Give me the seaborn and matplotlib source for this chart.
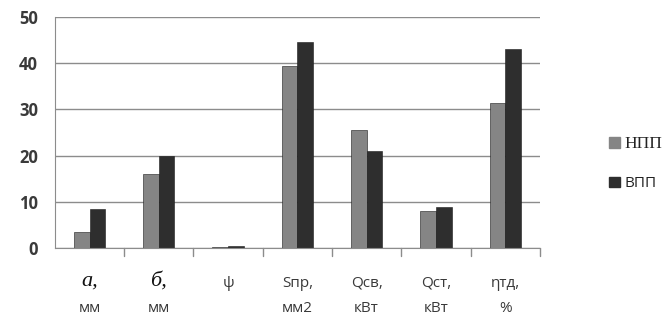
import matplotlib
matplotlib.use("Agg")
import matplotlib.pyplot as plt
import pandas as pd
import seaborn as sns

# данные
line1 = ["а,", "б,", "ψ", "Sпр,", "Qсв,", "Qст,", "ηтд,"]
line2 = ["мм", "мм", "", "мм2", "кВт", "кВт", "%"]
npp = [3.5, 16, 0.3, 39.5, 25.5, 8, 31.5]
vpp = [8.5, 20, 0.5, 44.5, 21, 9, 43]
series = ["НПП", "ВПП"]
colors = ["#858585", "#2e2e2e"]

df = pd.DataFrame({
    "cat": line1 * 2,
    "val": npp + vpp,
    "ser": [series[0]] * len(npp) + [series[1]] * len(vpp),
})

sns.set_style("white")
plt.rcParams["font.family"] = ["Open Sans", "DejaVu Sans"]

fig = plt.figure(figsize=(6.69, 3.21), dpi=100)
ax = fig.add_axes([0.082, 0.227, 0.725, 0.72])

sns.barplot(data=df, x="cat", y="val", hue="ser", palette=colors,
            width=0.45, edgecolor="#1a1a1a", linewidth=0.4, ax=ax, legend=False)

ax.set_ylim(0, 50)
ax.set_xlim(-0.5, len(line1) - 0.5)
ax.set_yticks(range(0, 51, 10))
ax.yaxis.grid(True, color="#8c8c8c", linewidth=1.0)
ax.set_axisbelow(True)
ax.tick_params(axis="y", labelsize=12, labelcolor="#3a3a3a", length=0, pad=12)
for lab in ax.get_yticklabels():
    lab.set_fontweight("bold")

# подписи категорий: вторая строка как метки оси, первая отдельно
ax.set_xticks(range(len(line1)))
ax.set_xticklabels(line2, fontsize=11, color="#3a3a3a")
ax.tick_params(axis="x", length=0, pad=38)
for i, t in enumerate(line1):
    if i < 2:
        ax.annotate(t, xy=(i, 0), xycoords=("data", "axes fraction"),
                    xytext=(0, -17), textcoords="offset points",
                    ha="center", va="top", fontsize=16, style="italic",
                    family=["Liberation Serif", "DejaVu Serif"], color="#111111")
    else:
        ax.annotate(t, xy=(i, 0), xycoords=("data", "axes fraction"),
                    xytext=(0, -20), textcoords="offset points",
                    ha="center", va="top", fontsize=11, color="#3a3a3a")

# деления между категориями
for b in [i + 0.5 for i in range(len(line1))]:
    ax.plot([b, b], [0, -0.035], transform=ax.get_xaxis_transform(),
            color="#8c8c8c", linewidth=1, clip_on=False)

ax.set_xlabel("")
ax.set_ylabel("")
sns.despine(ax=ax, top=True, right=True)
for s in ["left", "bottom"]:
    ax.spines[s].set_color("#8c8c8c")

# легенда
handles = [plt.Rectangle((0, 0), 1, 1, color=c) for c in colors]
leg = fig.legend(handles, series, loc="center left", bbox_to_anchor=(0.89, 0.49),
                 frameon=False, handlelength=0.7, handleheight=0.7,
                 handletextpad=0.3, labelspacing=1.6, fontsize=11)
leg.get_texts()[0].set_fontfamily(["Liberation Serif", "DejaVu Serif"])
leg.get_texts()[0].set_fontstyle("normal")
leg.get_texts()[0].set_fontsize(12.5)
for t in leg.get_texts():
    t.set_color("#222222")

fig.savefig("out.png", dpi=100)
